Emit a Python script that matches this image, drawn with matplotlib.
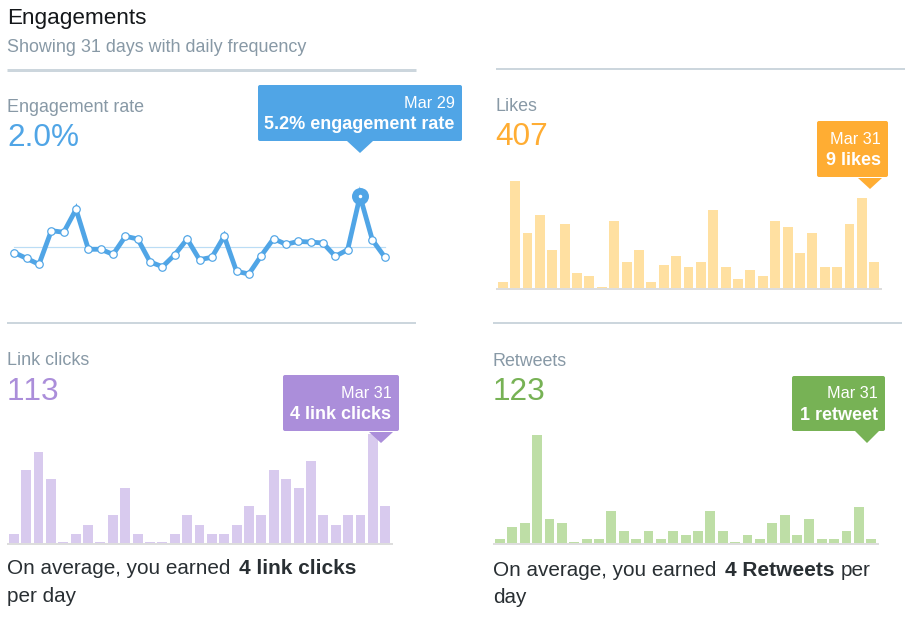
"""Engagements dashboard: four small daily charts."""

import matplotlib

matplotlib.use("Agg")

import matplotlib.pyplot as plt
from matplotlib.patches import FancyBboxPatch, Polygon
import numpy as np

plt.rcParams["font.family"] = ["Liberation Sans", "DejaVu Sans"]
plt.rcParams["text.kerning_factor"] = 6

W, H = 924, 618

days = np.arange(1, 32)
engagement_rate = [1.67, 1.31, 0.94, 3.04, 2.94, 4.37, 1.88, 1.88, 1.56, 2.69, 2.52,
                   1.09, 0.79, 1.54, 2.52, 1.23, 1.38, 2.69, 0.50, 0.34, 1.48, 2.54,
                   2.19, 2.37, 2.33, 2.27, 1.44, 1.85, 5.20, 2.46, 1.40]
likes = [2, 37, 19, 25, 13, 22, 5, 4, 0, 23, 9, 13, 2, 8, 11, 7, 9, 27, 7, 3, 6, 4,
         23, 21, 12, 19, 7, 7, 22, 31, 9]
link_clicks = [1, 8, 10, 7, 0, 1, 2, 0, 3, 6, 1, 0, 0, 1, 3, 2, 1, 1, 2, 4, 3, 8, 7,
               6, 9, 3, 2, 3, 3, 12, 4]
retweets = [1, 4, 5, 27, 6, 5, 0, 1, 1, 8, 3, 1, 3, 1, 3, 2, 3, 8, 3, 0, 2, 1, 5, 7,
            2, 6, 1, 1, 3, 9, 1]

BLUE = "#50A5E6"
ORANGE = "#FFAD33"
PURPLE = "#AB8EDA"
GREEN = "#77B255"
GRAY = "#8899A6"
DARK = "#292F33"
RULE = "#CCD6DD"
BASE = "#DDDDDD"


def px(size):
    return size * 0.72


def chart_axes(fig, x0, x1, top, bottom, first, last, ymax):
    # axes placed in pixel coordinates, x axis is the day of the month
    ax = fig.add_axes([x0 / W, 1 - bottom / H, (x1 - x0) / W, (bottom - top) / H])
    step = (last - first) / 30
    ax.set_xlim(1 + (x0 - first) / step, 1 + (x1 - first) / step)
    ax.set_ylim(0, ymax)
    ax.axis("off")
    return ax


def bars(fig, values, color, x0, x1, base, first, last, unit):
    ymax = 130 / unit
    ax = chart_axes(fig, x0, x1, base - 130, base, first, last, ymax)
    heights = np.maximum(values, 1.2 / unit)
    ax.bar(days, heights, width=0.8, color=color, linewidth=0)
    return ax


def tooltip(ax, x0, x1, top, bottom, tip_x, tip_half, tip_y, color, date, label, gap=0):
    ax.add_patch(FancyBboxPatch((x0 + 2, top + 2), x1 - x0 - 4, bottom - top - 4,
                                boxstyle="round,pad=2", fc=color, ec="none"))
    ax.add_patch(Polygon([(tip_x - tip_half, bottom + gap), (tip_x + tip_half, bottom + gap),
                          (tip_x, tip_y)], fc=color, ec="none"))
    ax.text(x1 - 7.5, top + 22.5, date, color="white", fontsize=px(16.3), ha="right")
    ax.text(x1 - 7.5, top + 44, label, color="white", fontsize=px(18), ha="right", weight="bold")


fig = plt.figure(figsize=(W / 100, H / 100), dpi=100, facecolor="white")

# line chart, the 2.0 gridline sits at y=247.3 and one percent is 16 px
ax_rate = chart_axes(fig, 8, 391, 170, 279.4, 14.3, 384.7, 109.4 / 16.03)
ax_rate.plot([1, 31], [2.0, 2.0], color="#BBDDF5", linewidth=px(1.2))
ax_rate.plot(days, engagement_rate, color=BLUE, linewidth=px(4.8), solid_joinstyle="miter",
             marker="o", markersize=px(7.5), markerfacecolor="white", markeredgecolor=BLUE,
             markeredgewidth=px(1.2), clip_on=False)
ax_rate.plot(days[28], engagement_rate[28], "o", color=BLUE, markersize=px(17),
             markeredgewidth=0, clip_on=False)
ax_rate.plot(days[28], engagement_rate[28], "o", color="white", markersize=px(3.5),
             markeredgewidth=0, clip_on=False)

bars(fig, likes, "#FFE0A1", 496, 882, 287.7, 502.7, 874.3, 2.89)
bars(fig, link_clicks, "#D8CAEE", 7, 393, 542.7, 13.7, 385.3, 9.08)
bars(fig, retweets, "#BEDEA6", 493, 879, 542.7, 500, 871.3, 4.0)

# overlay in pixel coordinates for rules, text and tooltips
ov = fig.add_axes([0, 0, 1, 1], facecolor="none")
ov.set_xlim(0, W)
ov.set_ylim(H, 0)
ov.axis("off")

ov.hlines(69.5, 7, 416, color=RULE, linewidth=px(3))
ov.hlines(69, 496, 905, color=RULE, linewidth=px(2))
ov.hlines(323, 7, 416, color=RULE, linewidth=px(2))
ov.hlines(323, 493, 902, color=RULE, linewidth=px(2))
ov.hlines(288.5, 496, 882, color=BASE, linewidth=px(2))
ov.hlines(543.5, 7, 393, color=BASE, linewidth=px(2))
ov.hlines(543.5, 493, 879, color=BASE, linewidth=px(2))

ov.text(7, 24.3, "Engagements", color="#14171A", fontsize=px(22.5))
ov.text(7, 52, "Showing 31 days with daily frequency", color=GRAY, fontsize=px(17.9))

ov.text(7, 111.7, "Engagement rate", color=GRAY, fontsize=px(17.9))
ov.text(7, 146, "2.0%", color=BLUE, fontsize=px(31.5))
ov.text(495.5, 111, "Likes", color=GRAY, fontsize=px(17.9))
ov.text(495, 145, "407", color=ORANGE, fontsize=px(31.5))
ov.text(7, 365, "Link clicks", color=GRAY, fontsize=px(17.9))
ov.text(7, 399.5, "113", color=PURPLE, fontsize=px(31.5))
ov.text(493, 366, "Retweets", color=GRAY, fontsize=px(17.9))
ov.text(493, 400, "123", color=GREEN, fontsize=px(31.5))

tooltip(ov, 258, 462, 85, 141, 360, 13, 153, BLUE, "Mar 29", "5.2% engagement rate")
tooltip(ov, 817, 888, 121, 177, 870, 12, 189, ORANGE, "Mar 31", "9 likes", gap=1)
tooltip(ov, 283, 399, 375, 431, 381, 12, 443, PURPLE, "Mar 31", "4 link clicks", gap=1)
tooltip(ov, 792, 885, 376, 431, 867, 12, 443, GREEN, "Mar 31", "1 retweet")

ov.text(7, 574.5, "On average, you earned", color=DARK, fontsize=px(20.8))
ov.text(239, 574.5, "4 link clicks", color=DARK, fontsize=px(20.9), weight="bold")
ov.text(7, 601.7, "per day", color=DARK, fontsize=px(20.8))
ov.text(493, 575.5, "On average, you earned", color=DARK, fontsize=px(20.8))
ov.text(725, 575.5, "4 Retweets", color=DARK, fontsize=px(20.9), weight="bold")
ov.text(840.5, 575.5, "per", color=DARK, fontsize=px(20.8))
ov.text(493, 603, "day", color=DARK, fontsize=px(20.8))

fig.savefig("out.png", dpi=100)
